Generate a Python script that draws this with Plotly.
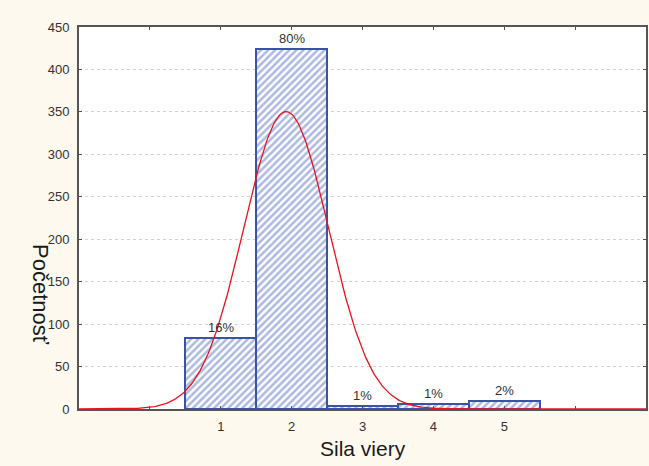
import numpy as np
import plotly.graph_objects as go

categories = [1, 2, 3, 4, 5]
counts = [84, 424, 4, 6, 9]
pct_labels = ["16%", "80%", "1%", "1%", "2%"]
y_ticks = [0, 50, 100, 150, 200, 250, 300, 350, 400, 450]
x_tick_vals = [0, 1, 2, 3, 4, 5, 6]
x_tick_text = ["", "1", "2", "3", "4", "5", ""]

# fitted normal curve (from data)
cats = np.array(categories, dtype=float)
cnt = np.array(counts, dtype=float)
n = cnt.sum()
mu = (cats * cnt).sum() / n
sd = np.sqrt(((cats - mu) ** 2 * cnt).sum() / n)
xs = np.linspace(-1, 7, 400)
ys = n * 1.0 / (sd * np.sqrt(2 * np.pi)) * np.exp(-0.5 * ((xs - mu) / sd) ** 2)

font = "Liberation Sans, Arial, sans-serif"
fig = go.Figure()
fig.add_trace(go.Bar(
    x=categories, y=counts, width=1.0,
    marker=dict(color="white",
                line=dict(color="#3a53a4", width=2),
                pattern=dict(shape="/", fgcolor="#5b73c2", bgcolor="white",
                             size=5, solidity=0.5)),
    showlegend=False, hoverinfo="skip",
))
fig.add_trace(go.Scatter(x=xs, y=ys, mode="lines",
                         line=dict(color="#e8141c", width=1.3),
                         showlegend=False, hoverinfo="skip"))

for c, v, t in zip(categories, counts, pct_labels):
    fig.add_annotation(x=c, y=v, text=t, showarrow=False, yanchor="bottom",
                       yshift=1, font=dict(size=13, color="#333333", family=font))

fig.add_annotation(xref="paper", yref="paper", x=0.5, y=0, yshift=-26,
                   xanchor="center", yanchor="top", text="Sila viery", showarrow=False,
                   font=dict(size=21, color="#1a1a1a", family=font))
fig.add_annotation(xref="paper", yref="paper", x=0, xshift=-38,
                   y=(409 - 294) / 382.0, xanchor="center", yanchor="middle",
                   text="Početnosť", showarrow=False,
                   textangle=90, font=dict(size=22, color="#1a1a1a", family=font))

fig.update_layout(
    width=649, height=466,
    margin=dict(l=79, r=1, t=27, b=57),
    paper_bgcolor="#fdf9ee", plot_bgcolor="white",
    bargap=0,
    font=dict(family=font, size=13, color="#333"),
)
fig.update_xaxes(range=[-1, 7], tickvals=x_tick_vals, ticktext=x_tick_text,
                 ticks="inside", ticklen=3, tickcolor="#555",
                 showline=True, linecolor="#555", linewidth=2, mirror="ticks",
                 showgrid=False, zeroline=False, ticklabelstandoff=4,
                 tickfont=dict(size=13, color="#333"))
fig.update_yaxes(range=[0, 450], tickvals=y_ticks,
                 ticks="inside", ticklen=3, tickcolor="#555",
                 showline=True, linecolor="#555", linewidth=2, mirror="ticks",
                 showgrid=True, gridcolor="#d2d2d2", griddash="dot", gridwidth=1,
                 zeroline=False, ticklabelstandoff=5,
                 tickfont=dict(size=13, color="#333"))

fig.write_html(
    "out.html",
    config={"displayModeBar": False},
    post_script="document.body.style.margin='0';document.body.style.background='#fdf9ee';"
                "var gd=document.getElementById('{plot_id}');"
                "Plotly.relayout(gd,{width:649,height:466});",
)
